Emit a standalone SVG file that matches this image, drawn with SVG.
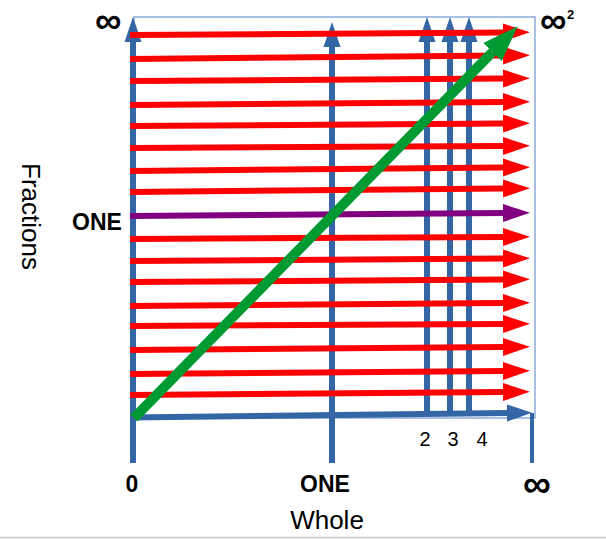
<svg xmlns="http://www.w3.org/2000/svg" width="606" height="539" viewBox="0 0 606 539">
<style>
.red{stroke:#FF0000;stroke-width:6;fill:none}
.pur{stroke:#800080;stroke-width:6;fill:none}
.blu{stroke:#3465A4;stroke-width:6;fill:none}
.grn{stroke:#009A33;stroke-width:10;fill:none}
.lbl{font-family:"Liberation Sans",Arial,sans-serif;fill:#000}
.b{font-weight:bold}
</style>
<defs>
<marker id="ar" markerUnits="userSpaceOnUse" markerWidth="27" markerHeight="20" refX="0" refY="10" orient="auto"><path d="M0,1 L27,10 L0,19 z" fill="#FF0000"/></marker>
<marker id="ap" markerUnits="userSpaceOnUse" markerWidth="27" markerHeight="20" refX="0" refY="10" orient="auto"><path d="M0,1 L27,10 L0,19 z" fill="#800080"/></marker>
<marker id="ab" markerUnits="userSpaceOnUse" markerWidth="25" markerHeight="18" refX="0" refY="9" orient="auto"><path d="M0,0.5 L25,9 L0,17.5 z" fill="#3465A4"/></marker>
<marker id="ag" markerUnits="userSpaceOnUse" markerWidth="36" markerHeight="28" refX="0" refY="14" orient="auto"><path d="M0,1 L36,14 L0,27 z" fill="#009A33"/></marker>
</defs>
<rect width="606" height="539" fill="#fff"/>
<line x1="0" y1="537.5" x2="606" y2="537.5" stroke="#c8c8c8" stroke-width="1.5"/>
<rect id="frame" x="134" y="17" width="401" height="401" fill="none" stroke="#8FAADC" stroke-width="1.5"/>
<g id="connectors">
<g id="whole-columns">
<line class="blu" x1="133" y1="463" x2="133" y2="42" marker-end="url(#ab)"/>
<line class="blu" x1="332" y1="463" x2="332" y2="47" marker-end="url(#ab)"/>
<line class="blu" x1="427" y1="414" x2="427" y2="42" marker-end="url(#ab)"/>
<line class="blu" x1="450" y1="414" x2="450" y2="42" marker-end="url(#ab)"/>
<line class="blu" x1="469" y1="414" x2="469" y2="42" marker-end="url(#ab)"/>
<line class="blu" x1="130" y1="417.5" x2="507" y2="413" marker-end="url(#ab)"/>
<line x1="532" y1="413" x2="532" y2="463" stroke="#3465A4" stroke-width="4"/>
</g>
<g id="fractions-rows">
<line class="red" x1="130" y1="35" x2="503" y2="32.5" marker-end="url(#ar)"/>
<line class="red" x1="130" y1="59" x2="503" y2="55.5" marker-end="url(#ar)"/>
<line class="red" x1="130" y1="81" x2="503" y2="78.5" marker-end="url(#ar)"/>
<line class="red" x1="130" y1="105" x2="503" y2="102" marker-end="url(#ar)"/>
<line class="red" x1="130" y1="126" x2="503" y2="123.5" marker-end="url(#ar)"/>
<line class="red" x1="130" y1="148" x2="503" y2="146" marker-end="url(#ar)"/>
<line class="red" x1="130" y1="171" x2="503" y2="167.5" marker-end="url(#ar)"/>
<line class="red" x1="130" y1="192" x2="503" y2="188.5" marker-end="url(#ar)"/>
<line class="pur" x1="130" y1="216" x2="503" y2="213" marker-end="url(#ap)"/>
<line class="red" x1="130" y1="239" x2="503" y2="237" marker-end="url(#ar)"/>
<line class="red" x1="130" y1="261" x2="503" y2="258.5" marker-end="url(#ar)"/>
<line class="red" x1="130" y1="282" x2="503" y2="279.5" marker-end="url(#ar)"/>
<line class="red" x1="130" y1="306" x2="503" y2="303" marker-end="url(#ar)"/>
<line class="red" x1="130" y1="326" x2="503" y2="324" marker-end="url(#ar)"/>
<line class="red" x1="130" y1="350" x2="503" y2="347" marker-end="url(#ar)"/>
<line class="red" x1="130" y1="374" x2="503" y2="371" marker-end="url(#ar)"/>
<line class="red" x1="130" y1="395" x2="503" y2="392" marker-end="url(#ar)"/>
</g>
<line id="diagonal" class="grn" x1="134" y1="418" x2="492.5" y2="52" marker-end="url(#ag)"/>
</g>
<g id="labels">
<text class="lbl b" x="95" y="33" font-size="37">∞</text>
<text class="lbl b" x="540" y="33" font-size="37">∞</text>
<text class="lbl b" x="567" y="19" font-size="13">2</text>
<text class="lbl b" x="97" y="230" font-size="23" text-anchor="middle">ONE</text>
<text class="lbl b" x="132" y="492" font-size="23" text-anchor="middle">0</text>
<text class="lbl b" x="325" y="492" font-size="23" text-anchor="middle">ONE</text>
<text class="lbl b" x="523" y="497" font-size="39">∞</text>
<text class="lbl" x="425" y="446" font-size="20" text-anchor="middle">2</text>
<text class="lbl" x="453" y="446" font-size="20" text-anchor="middle">3</text>
<text class="lbl" x="482" y="446" font-size="20" text-anchor="middle">4</text>
<text class="lbl" x="327" y="529" font-size="26" text-anchor="middle">Whole</text>
<text class="lbl" font-size="26" transform="translate(22,163) rotate(90)">Fractions</text>
</g>
</svg>
